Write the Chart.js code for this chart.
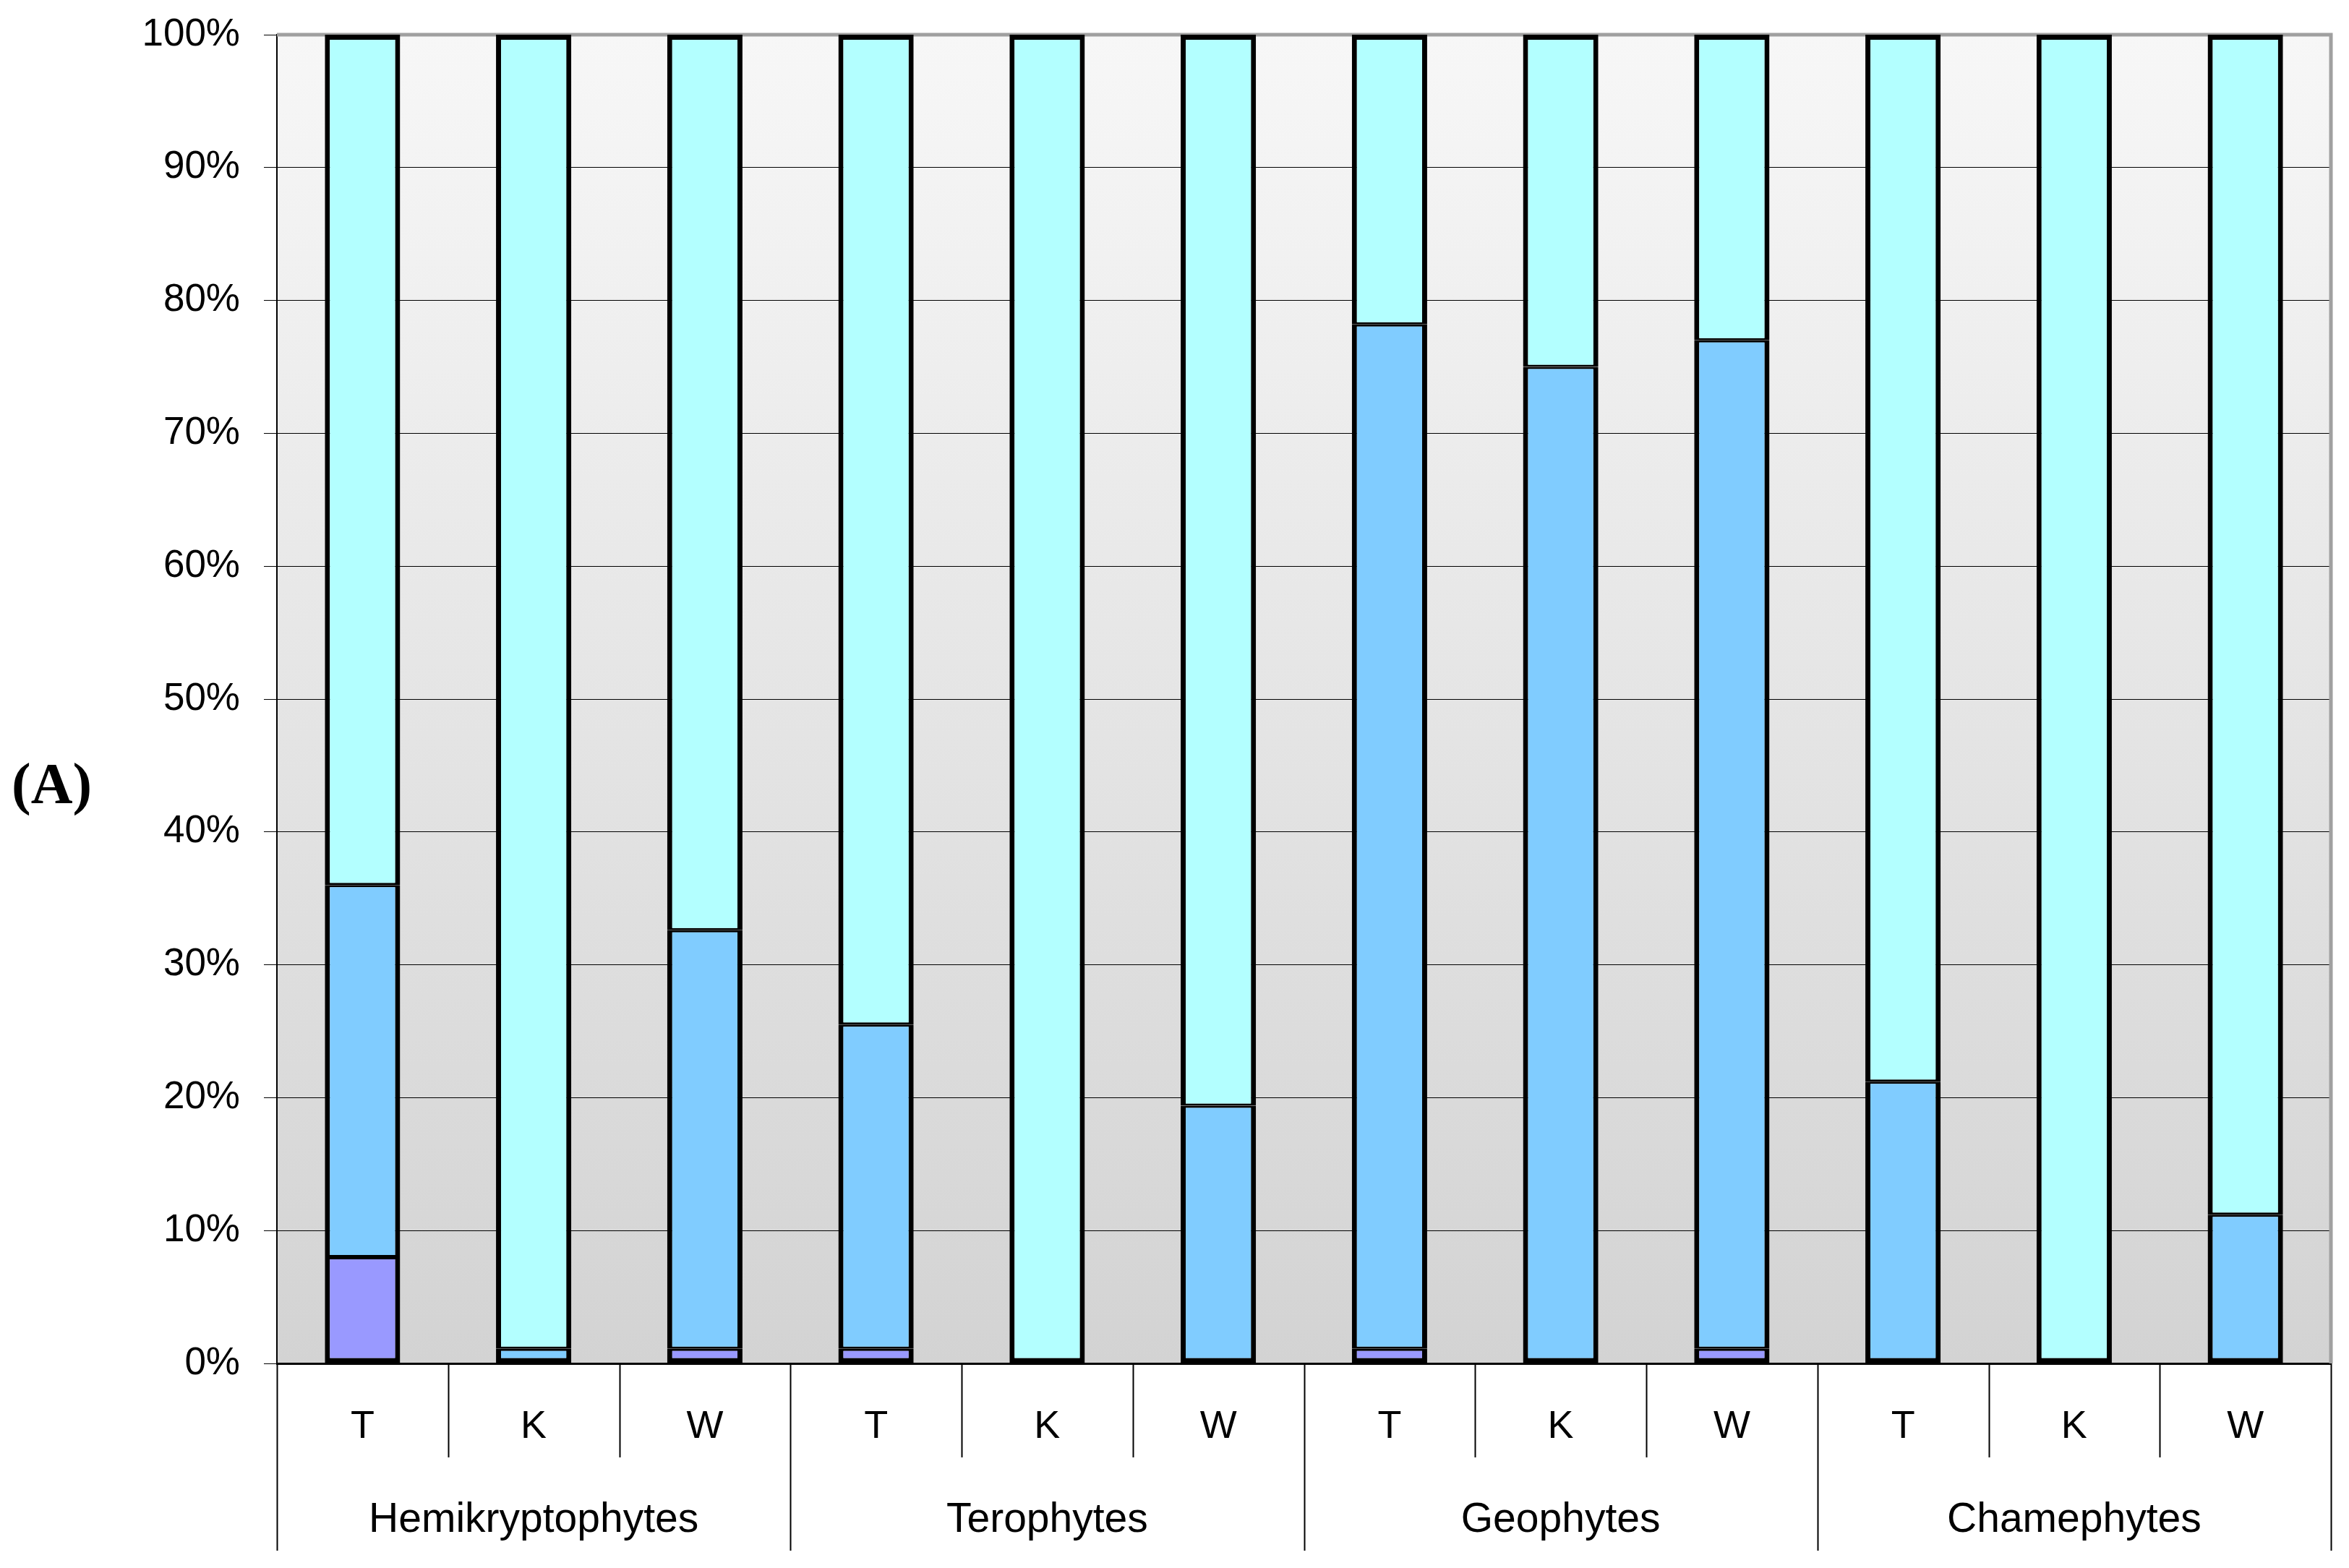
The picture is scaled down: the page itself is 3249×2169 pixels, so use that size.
<!DOCTYPE html>
<html>
<head>
<meta charset="utf-8">
<script src="https://cdn.jsdelivr.net/npm/chart.js@4.4.1/dist/chart.umd.min.js"></script>
<style>
  body { margin: 0; background: #fff; }
  canvas { display: block; }
</style>
</head>
<body>
<canvas id="lifeForms" width="3249" height="2169"></canvas>
<script>
const groups = ["Hemikryptophytes", "Terophytes", "Geophytes", "Chamephytes"];
const sites = ["T", "K", "W", "T", "K", "W", "T", "K", "W", "T", "K", "W"];
const yTicks = [0, 10, 20, 30, 40, 50, 60, 70, 80, 90, 100];

// percent shares, bottom to top
const seriesBottom = [8, null, 1.1, 1.1, null, null, 1.1, null, 1.1, null, null, null];
const seriesMiddle = [28, 1.1, 31.5, 24.4, null, 19.4, 77.1, 75, 75.9, 21.2, null, 11.2];
const seriesTop = [64, 98.9, 67.4, 74.5, 100, 80.6, 21.8, 25, 23, 78.8, 100, 88.8];

const colBottom = "#9999FF";
const colMiddle = "#80CCFF";
const colTop = "#B3FFFF";

const allSeries = [seriesBottom, seriesMiddle, seriesTop];

// outer edges thick, shared edges between segments half so they add up to one line
function segBorder(ctx) {
  const i = ctx.dataIndex;
  const d = ctx.datasetIndex;
  const below = allSeries.slice(0, d).some(s => s[i] != null);
  const above = allSeries.slice(d + 1).some(s => s[i] != null);
  return { left: 7, right: 7, top: above ? 3 : 7, bottom: below ? 3 : 7 };
}

const plotBack = {
  id: "plotBack",
  beforeDraw(chart) {
    const ctx = chart.ctx;
    const a = chart.chartArea;
    const g = ctx.createLinearGradient(0, a.top, 0, a.bottom);
    g.addColorStop(0, "#F7F7F7");
    g.addColorStop(1, "#D3D3D3");
    ctx.save();
    ctx.fillStyle = g;
    ctx.fillRect(a.left, a.top, a.right - a.left, a.bottom - a.top);
    ctx.restore();
  },
  beforeDatasetsDraw(chart) {
    const ctx = chart.ctx;
    const a = chart.chartArea;
    ctx.save();
    ctx.strokeStyle = "#A0A0A0";
    ctx.lineWidth = 5;
    ctx.beginPath();
    ctx.moveTo(a.left, a.top);
    ctx.lineTo(a.right, a.top);
    ctx.lineTo(a.right, a.bottom);
    ctx.stroke();
    ctx.restore();
  },
  afterDraw(chart) {
    const ctx = chart.ctx;
    const a = chart.chartArea;
    const x = chart.scales.x;
    const x2 = chart.scales.x2;
    ctx.save();
    ctx.strokeStyle = "#000";
    ctx.lineWidth = 2;
    for (let i = 0; i <= sites.length; i++) {
      const px = Math.round(x.getPixelForValue(i - 0.5)) + 0.5;
      const end = (i % 3 === 0) ? x2.bottom : x.bottom;
      ctx.beginPath();
      ctx.moveTo(px, a.bottom);
      ctx.lineTo(px, end);
      ctx.stroke();
    }
    ctx.fillStyle = "#000";
    ctx.font = "bold 80px 'Liberation Serif'";
    ctx.textAlign = "left";
    ctx.textBaseline = "middle";
    ctx.fillText("(A)", 16, 1090);
    ctx.restore();
  }
};

new Chart("lifeForms", {
  type: "bar",
  data: {
    labels: sites,
    datasets: [
      { label: "Series 1", data: seriesBottom, backgroundColor: colBottom },
      { label: "Series 2", data: seriesMiddle, backgroundColor: colMiddle },
      { label: "Series 3", data: seriesTop, backgroundColor: colTop }
    ]
  },
  options: {
    responsive: false,
    animation: false,
    devicePixelRatio: 1,
    layout: { padding: { top: 48, right: 25, bottom: 24, left: 0 } },
    datasets: {
      bar: {
        borderColor: "#000",
        borderWidth: segBorder,
        borderSkipped: false,
        categoryPercentage: 1,
        barPercentage: 0.44
      }
    },
    plugins: {
      legend: { display: false },
      tooltip: { enabled: false }
    },
    scales: {
      x: {
        stacked: true,
        weight: 0,
        grid: { display: false, drawTicks: false },
        border: { display: true, color: "#000", width: 3 },
        ticks: { color: "#000", font: { family: "'Liberation Sans'", size: 54 }, padding: 56 },
        afterFit(s) { s.height = 130; }
      },
      x2: {
        type: "category",
        position: "bottom",
        labels: groups,
        offset: true,
        weight: 1,
        grid: { display: false, drawTicks: false },
        border: { display: false },
        ticks: { color: "#000", font: { family: "'Liberation Sans'", size: 57 }, padding: 53 },
        afterFit(s) { s.height = 129; }
      },
      y: {
        stacked: true,
        min: 0,
        max: 100,
        afterBuildTicks(s) { s.ticks = yTicks.map(v => ({ value: v })); },
        grid: { color: "#000", lineWidth: 1, tickLength: 18 },
        border: { display: true, color: "#000", width: 2 },
        ticks: {
          color: "#000",
          font: { family: "'Liberation Sans'", size: 53 },
          padding: 33,
          callback: v => v + "%"
        },
        afterFit(s) {
          s.width = 383;
          s.paddingTop = 0;
          s.paddingBottom = 0;
        }
      }
    }
  },
  plugins: [plotBack]
});
</script>
</body>
</html>
